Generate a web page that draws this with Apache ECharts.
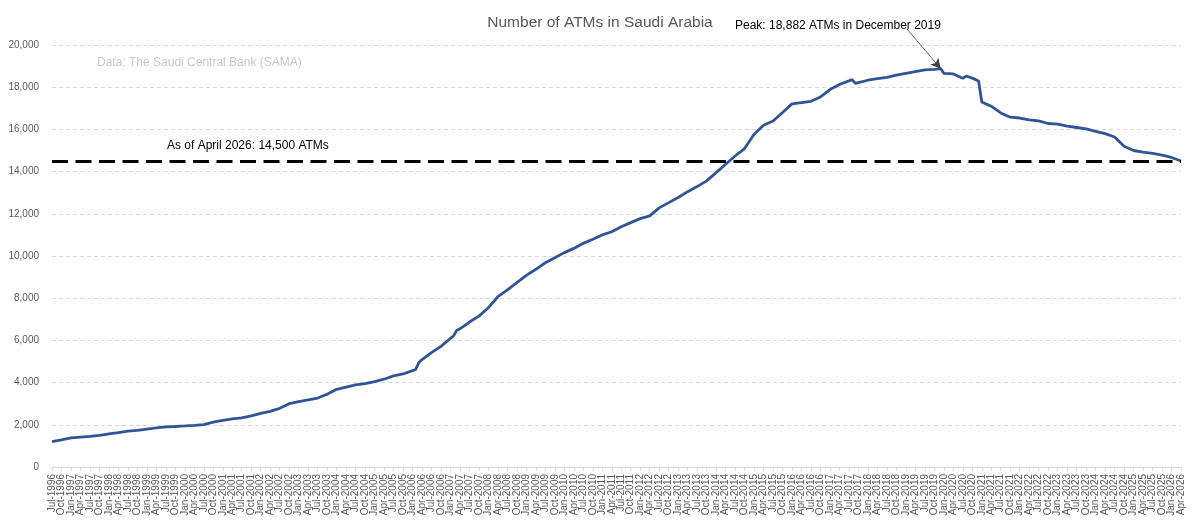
<!DOCTYPE html>
<html>
<head>
<meta charset="utf-8">
<title>Number of ATMs in Saudi Arabia</title>
<script src="https://cdn.jsdelivr.net/npm/echarts@6/dist/echarts.min.js"></script>
<style>
  html, body { margin: 0; padding: 0; background: #fff; }
  #chart { width: 1200px; height: 525px; }
</style>
</head>
<body>
<div id="chart"></div>
<script>
// month names for the category axis
const monthNames = ["Jan", "Feb", "Mar", "Apr", "May", "Jun", "Jul", "Aug", "Sep", "Oct", "Nov", "Dec"];

// monthly categories Jul-1996 .. Apr-2026 (labels shown every 3rd month)
const categories = [];
for (let k = 0; k < 358; k++) {
  const t = 1996 * 12 + 6 + k;
  categories.push(monthNames[t % 12] + "-" + Math.floor(t / 12));
}

// readings taken off the chart (quarterly, plus a few months around the sharp moves)
const dates = [
  "Jul-1996", "Oct-1996", "Jan-1997", "Apr-1997", "Jul-1997", "Oct-1997",
  "Jan-1998", "Apr-1998", "Jul-1998", "Oct-1998", "Jan-1999", "Apr-1999",
  "Jul-1999", "Oct-1999", "Jan-2000", "Apr-2000", "Jul-2000", "Oct-2000",
  "Jan-2001", "Apr-2001", "Jul-2001", "Oct-2001", "Jan-2002", "Apr-2002",
  "Jul-2002", "Oct-2002", "Jan-2003", "Apr-2003", "Jul-2003", "Oct-2003",
  "Jan-2004", "Apr-2004", "Jul-2004", "Oct-2004", "Jan-2005", "Apr-2005",
  "Jul-2005", "Oct-2005", "Jan-2006", "Feb-2006", "Mar-2006", "Apr-2006",
  "Jul-2006", "Oct-2006", "Jan-2007", "Feb-2007", "Mar-2007", "Apr-2007",
  "Jul-2007", "Oct-2007", "Jan-2008", "Apr-2008", "Jul-2008", "Oct-2008",
  "Jan-2009", "Apr-2009", "Jul-2009", "Oct-2009", "Jan-2010", "Apr-2010",
  "Jul-2010", "Oct-2010", "Jan-2011", "Apr-2011", "Jul-2011", "Oct-2011",
  "Jan-2012", "Apr-2012", "Jul-2012", "Oct-2012", "Jan-2013", "Apr-2013",
  "Jul-2013", "Oct-2013", "Jan-2014", "Apr-2014", "Jul-2014", "Oct-2014",
  "Jan-2015", "Apr-2015", "Jul-2015", "Oct-2015", "Jan-2016", "Apr-2016",
  "Jul-2016", "Oct-2016", "Jan-2017", "Apr-2017", "Jul-2017", "Aug-2017",
  "Sep-2017", "Oct-2017", "Jan-2018", "Apr-2018", "Jul-2018", "Oct-2018",
  "Jan-2019", "Apr-2019", "Jul-2019", "Oct-2019", "Dec-2019", "Jan-2020",
  "Apr-2020", "Jul-2020", "Aug-2020", "Oct-2020", "Dec-2020", "Jan-2021",
  "Apr-2021", "Jul-2021", "Oct-2021", "Jan-2022", "Apr-2022", "Jul-2022",
  "Oct-2022", "Jan-2023", "Apr-2023", "Jul-2023", "Oct-2023", "Jan-2024",
  "Apr-2024", "Jul-2024", "Oct-2024", "Jan-2025", "Apr-2025", "Jul-2025",
  "Oct-2025", "Jan-2026", "Apr-2026"
];
const atms = [
  1200, 1290, 1380, 1420, 1450, 1500,
  1565, 1630, 1700, 1740, 1800, 1850,
  1900, 1920, 1945, 1975, 2010, 2130,
  2210, 2280, 2330, 2420, 2545, 2640,
  2780, 3000, 3100, 3180, 3270, 3450,
  3680, 3790, 3890, 3950, 4050, 4160,
  4320, 4410, 4570, 4620, 4950, 5090,
  5420, 5720, 6100, 6220, 6480, 6550,
  6870, 7150, 7550, 8070, 8390, 8735,
  9080, 9370, 9680, 9920, 10160, 10360,
  10600, 10790, 11000, 11150, 11390, 11580,
  11770, 11900, 12280, 12530, 12770, 13050,
  13290, 13560, 13950, 14350, 14740, 15090,
  15770, 16200, 16400, 16800, 17210, 17270,
  17330, 17540, 17890, 18130, 18300, 18360,
  18180, 18220, 18330, 18410, 18470, 18570,
  18660, 18740, 18820, 18840, 18882, 18660,
  18630, 18420, 18530, 18430, 18290, 17300,
  17100, 16780, 16580, 16540, 16450, 16400,
  16280, 16250, 16150, 16090, 16020, 15910,
  15800, 15640, 15200, 15000, 14920, 14860,
  14780, 14670, 14500
];

// annotations
const latestValue = 14500;
const peakDate = "Dec-2019";
const peakValue = 18882;

const seriesData = dates.map((d, i) => [d, atms[i]]);

const chart = echarts.init(document.getElementById("chart"));
const font = "Liberation Sans";

chart.setOption({
  animation: false,
  backgroundColor: "#ffffff",
  textStyle: { fontFamily: font },
  title: {
    text: "Number of ATMs in Saudi Arabia",
    left: "center",
    top: 10,
    textStyle: { fontFamily: font, fontSize: 15.5, fontWeight: "normal", color: "#595959" }
  },
  grid: { left: 52, right: 19, top: 45, bottom: 58 },
  xAxis: {
    type: "category",
    data: categories,
    boundaryGap: false,
    axisLine: { lineStyle: { color: "#d9d9d9", width: 1 } },
    axisTick: { interval: 2, length: 4, lineStyle: { color: "#d9d9d9" } },
    axisLabel: {
      // every category gets a slot, only the quarter months carry text
      interval: 0,
      formatter: (value, index) => (index % 3 === 0 ? value : ""),
      rotate: 90,
      margin: 7,
      fontSize: 10,
      color: "#595959",
      fontFamily: font,
      hideOverlap: false
    },
    splitLine: { show: false }
  },
  yAxis: {
    type: "value",
    min: 0,
    max: 20000,
    interval: 2000,
    axisLine: { show: false },
    axisTick: { show: false },
    axisLabel: {
      margin: 13,
      fontSize: 10,
      color: "#595959",
      fontFamily: font,
      formatter: (v) => v.toLocaleString("en-US")
    },
    splitLine: { lineStyle: { color: "#d9d9d9", type: [4, 3], width: 1 } }
  },
  series: [
    {
      name: "ATMs",
      type: "line",
      data: seriesData,
      symbol: "none",
      lineStyle: { color: "#2F5597", width: 2.8 },
      itemStyle: { color: "#2F5597" },
      markLine: {
        silent: true,
        symbol: "none",
        label: { show: false },
        emphasis: { disabled: true },
        data: [
          {
            yAxis: latestValue,
            lineStyle: { color: "#000000", width: 3, type: [16, 7.5] }
          },
          [
            { x: 907, y: 29, lineStyle: { color: "#404040", width: 0.8, type: "solid" } },
            { coord: [peakDate, peakValue], symbol: "arrow", symbolSize: [8, 10] }
          ]
        ]
      }
    }
  ],
  graphic: [
    {
      type: "text",
      left: 97,
      top: 57,
      style: { text: "Data: The Saudi Central Bank (SAMA)", fontFamily: font, fontSize: 12, fill: "#c9c9c9" }
    },
    {
      type: "text",
      left: 167,
      top: 140,
      style: { text: "As of April 2026: 14,500 ATMs", fontFamily: font, fontSize: 12, fill: "#000000" }
    },
    {
      type: "text",
      left: 735,
      top: 20,
      style: { text: "Peak: 18,882 ATMs in December 2019", fontFamily: font, fontSize: 12, fill: "#000000" }
    }
  ]
});
</script>
</body>
</html>
